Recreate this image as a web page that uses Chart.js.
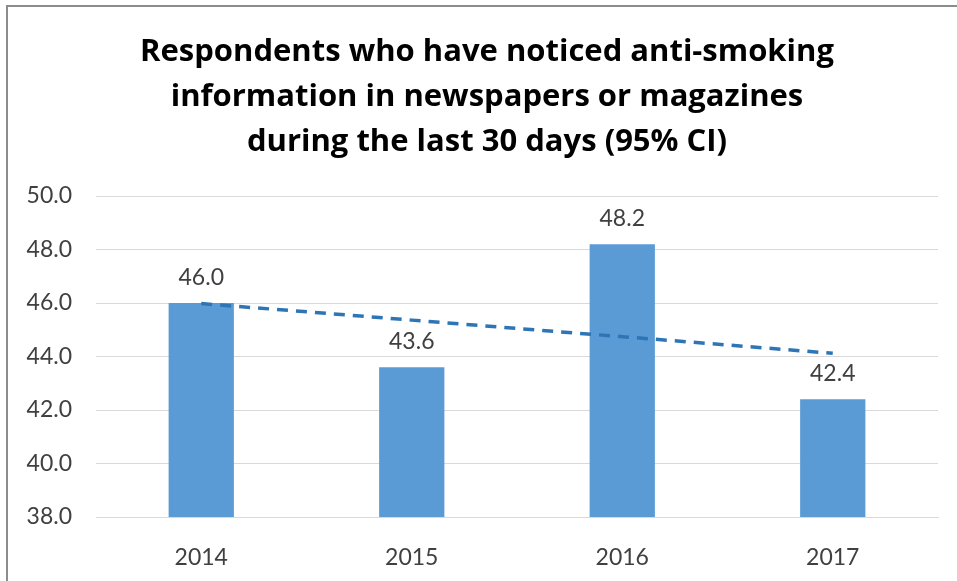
<!DOCTYPE html>
<html>
<head>
<meta charset="utf-8">
<script src="https://cdn.jsdelivr.net/npm/chart.js@4"></script>
<style>
    html, body { margin: 0; padding: 0; background: #fff; }
    #wrap { position: relative; width: 957px; height: 581px; overflow: hidden; }
    #frame {
        position: absolute; left: 6px; top: 5px; width: 1000px; height: 1000px;
        border-left: 2px solid #8c8c8c; border-top: 2px solid #8c8c8c;
        pointer-events: none;
    }
</style>
</head>
<body>
<div id="wrap">
    <canvas id="chart" width="957" height="581"></canvas>
    <div id="frame"></div>
</div>
<script>
// Values
const years = ["2014", "2015", "2016", "2017"];
const shares = [46.0, 43.6, 48.2, 42.4];
const trend = [45.98, 45.36, 44.74, 44.12];
const yMin = 38;
const yMax = 50;
const yStep = 2;
const titleLines = [
    "Respondents who have noticed anti-smoking",
    "information in newspapers or magazines",
    "during the last 30 days (95% CI)",
];

const textColor = "#404040";

// Title drawn by hand so it can sit off-centre like the original
const titlePlugin = {
    id: "titleLines",
    afterDraw(chart) {
        const ctx = chart.ctx;
        ctx.save();
        ctx.font = "bold 31px 'Open Sans'";
        ctx.fillStyle = "#000";
        ctx.textAlign = "center";
        ctx.textBaseline = "middle";
        titleLines.forEach((line, i) => {
            ctx.fillText(line, 487, 52 + i * 45);
        });
        ctx.restore();
    },
};

// Value labels above the bars
const labelPlugin = {
    id: "barLabels",
    afterDatasetsDraw(chart) {
        const ctx = chart.ctx;
        const meta = chart.getDatasetMeta(1);
        ctx.save();
        ctx.font = "23px Lato";
        ctx.fillStyle = textColor;
        ctx.textAlign = "center";
        ctx.textBaseline = "alphabetic";
        meta.data.forEach((bar, i) => {
            ctx.fillText(shares[i].toFixed(1), bar.x, bar.y - 18);
        });
        ctx.restore();
    },
};

new Chart(document.getElementById("chart"), {
    type: "bar",
    data: {
        labels: years,
        datasets: [
            {
                type: "line",
                label: "Linear trend",
                data: trend,
                borderColor: "#2E75B6",
                borderWidth: 3.5,
                borderDash: [11, 8],
                pointRadius: 0,
                fill: false,
                order: 0,
            },
            {
                type: "bar",
                label: "Respondents",
                data: shares,
                backgroundColor: "#5B9BD5",
                barPercentage: 0.31,
                categoryPercentage: 1,
                order: 1,
            },
        ],
    },
    plugins: [titlePlugin, labelPlugin],
    options: {
        responsive: false,
        animation: false,
        layout: { padding: { top: 196, left: 0, right: 19, bottom: 0 } },
        plugins: {
            legend: { display: false },
            title: { display: false },
            tooltip: { enabled: false },
        },
        scales: {
            x: {
                grid: { display: false },
                border: { color: "#d9d9d9", width: 1 },
                ticks: {
                    color: textColor,
                    font: { family: "Lato", size: 23 },
                    padding: 19,
                },
                afterFit(axis) { axis.height = 64; },
            },
            y: {
                min: yMin,
                max: yMax,
                grid: { color: "#d9d9d9", drawTicks: false },
                border: { display: false },
                ticks: {
                    stepSize: yStep,
                    color: textColor,
                    font: { family: "Lato", size: 23 },
                    padding: 24,
                    callback: (v) => v.toFixed(1),
                },
                afterFit(axis) { axis.width = 96; },
            },
        },
    },
});
</script>
</body>
</html>
